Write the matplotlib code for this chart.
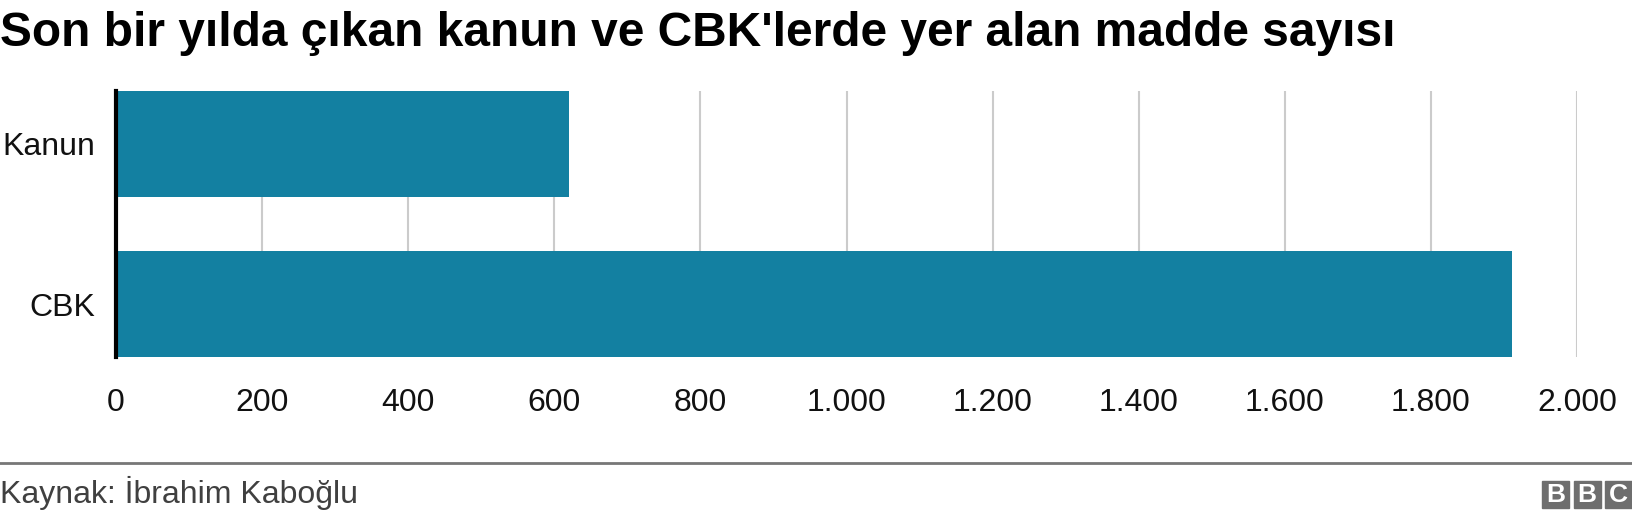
import matplotlib.pyplot as plt
from matplotlib.patches import Rectangle
from matplotlib.ticker import FuncFormatter

plt.rcParams['font.family'] = ['Liberation Sans', 'DejaVu Sans']

categories = ['Kanun', 'CBK']
values = [620, 1911]
xticks = [0, 200, 400, 600, 800, 1000, 1200, 1400, 1600, 1800, 2000]

fig = plt.figure(figsize=(16.32, 5.18), dpi=100)
ax = fig.add_axes([116/1632, 1 - 357/518, (1577 - 116)/1632, (357 - 91)/518])

ax.barh(range(len(categories)), values, height=0.6625, color='#1380A1', zorder=2)
ax.set_xlim(0, 2000)
ax.set_ylim(1.331, -0.331)
ax.set_yticks(range(len(categories)))
ax.set_yticklabels(categories)
ax.set_xticks(xticks)
# turkish thousands separator
ax.xaxis.set_major_formatter(FuncFormatter(lambda v, p: f'{int(v):,}'.replace(',', '.')))
ax.grid(axis='x', color='#cbcbcb', linewidth=1.5, zorder=0)
for s in ['top', 'right', 'bottom']:
    ax.spines[s].set_visible(False)
ax.spines['left'].set_color('black')
ax.spines['left'].set_linewidth(3)
ax.spines['left'].set_zorder(3)
ax.tick_params(axis='both', length=0, labelsize=23, colors='#111111')
ax.tick_params(axis='x', pad=22)
ax.tick_params(axis='y', pad=15)

fig.text(0, 1 - 46/518, "Son bir yılda çıkan kanun ve CBK'lerde yer alan madde sayısı",
         fontsize=34.5, fontweight='bold', color='black', ha='left', va='baseline')

# footer line and source
fig.add_artist(plt.Line2D([0, 1], [1 - 463/518] * 2, color='#777777', linewidth=2))
fig.text(0, 1 - 503/518, 'Kaynak: İbrahim Kaboğlu', fontsize=23, color='#404040',
         ha='left', va='baseline')

# BBC blocks
for i, letter in enumerate('BBC'):
    x0 = 1542 + i * 31.5
    fig.add_artist(Rectangle((x0/1632, 1 - 508/518), 27/1632, 27/518,
                             transform=fig.transFigure, color='#6e6e6e'))
    fig.text((x0 + 13.5)/1632, 1 - 495/518, letter, fontsize=19, fontweight='bold',
             color='white', ha='center', va='center')

fig.savefig('out.png', dpi=100)
